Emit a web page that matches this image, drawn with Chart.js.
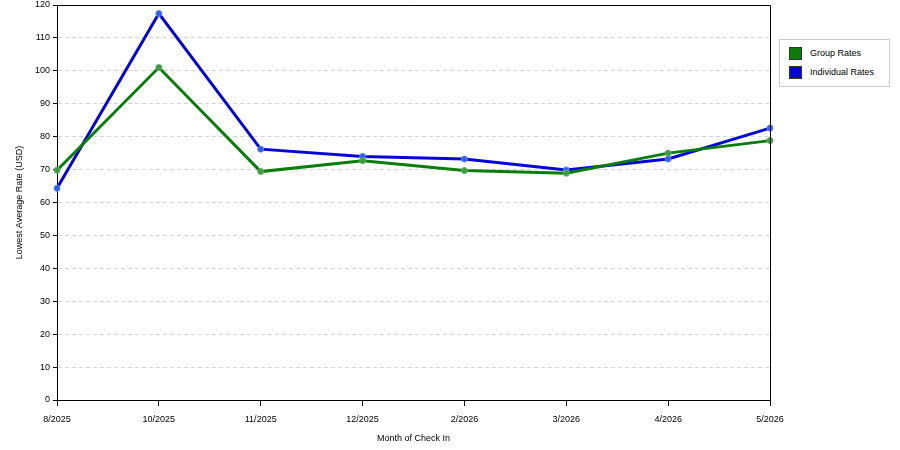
<!DOCTYPE html>
<html>
<head>
<meta charset="utf-8">
<script src="https://cdn.jsdelivr.net/npm/chart.js@4"></script>
<style>
  body { margin: 0; background: #fff; }
  #wrap { position: relative; width: 900px; height: 450px; }
  #legend {
    position: absolute; left: 779px; top: 39px; width: 111px; height: 48px;
    border: 1px solid #ccc; box-sizing: border-box; background: #fff;
    font: 9px "Liberation Sans", Arial, sans-serif; color: #000;
  }
  .item { position: absolute; left: 9px; height: 13px; line-height: 13px; }
  .sw { display: inline-block; width: 13px; height: 13px; vertical-align: top; margin-right: 8px; box-sizing: border-box; border: 1px solid #333; }
</style>
</head>
<body>
<div id="wrap">
  <canvas id="rateChart" width="900" height="450"></canvas>
  <div id="legend"></div>
</div>
<script>
// Data
const months = ['8/2025', '10/2025', '11/2025', '12/2025', '2/2026', '3/2026', '4/2026', '5/2026'];
const groupRates = [69.8, 101, 69.4, 72.7, 69.7, 68.9, 75, 78.8];
const individualRates = [64.3, 117.4, 76.2, 74, 73.2, 69.9, 73.2, 82.6];
const yTicks = [0, 10, 20, 30, 40, 50, 60, 70, 80, 90, 100, 110, 120];

const seriesColors = { group: '#0a7d0a', individual: '#0505d8' };

Chart.defaults.font.family = '"Liberation Sans", Arial, sans-serif';
Chart.defaults.font.size = 9;
Chart.defaults.color = '#000';

// frame around the plot area (top and right edges)
const framePlugin = {
  id: 'frame',
  afterDraw(chart) {
    const a = chart.chartArea, c = chart.ctx;
    c.save();
    c.strokeStyle = '#000';
    c.lineWidth = 1;
    c.beginPath();
    c.moveTo(a.left, a.top + 0.5);
    c.lineTo(a.right + 0.5, a.top + 0.5);
    c.lineTo(a.right + 0.5, a.bottom);
    c.stroke();
    c.restore();
  }
};

const ctx = document.getElementById('rateChart').getContext('2d');
const rateChart = new Chart(ctx, {
  type: 'line',
  data: {
    labels: months,
    datasets: [{
      label: 'Group Rates',
      data: groupRates,
      borderColor: seriesColors.group,
      backgroundColor: seriesColors.group,
      borderWidth: 3,
      pointRadius: 3,
      pointBackgroundColor: '#3f9b3f',
      pointBorderColor: '#5fae5f',
      pointBorderWidth: 1,
      tension: 0
    }, {
      label: 'Individual Rates',
      data: individualRates,
      borderColor: seriesColors.individual,
      backgroundColor: seriesColors.individual,
      borderWidth: 3,
      pointRadius: 3,
      pointBackgroundColor: '#2f5fe6',
      pointBorderColor: '#5a85ee',
      pointBorderWidth: 1,
      tension: 0
    }]
  },
  options: {
    responsive: false,
    animation: false,
    layout: { padding: { top: 5, right: 130, left: 0, bottom: 0 } },
    plugins: {
      legend: { display: false },
      tooltip: { enabled: false }
    },
    scales: {
      y: {
        min: 0,
        max: 120,
        afterFit: (s) => { s.width = 57; s.paddingTop = 0; s.paddingBottom = 0; },
        afterBuildTicks: (s) => { s.ticks = yTicks.map(v => ({ value: v })); },
        border: { color: '#000', width: 1, dash: [4, 3] },
        grid: {
          color: (c) => (c.tick.value === 0 || c.tick.value === 120) ? 'rgba(0,0,0,0)' : '#d4d4d4',
          tickColor: '#000',
          tickLength: 4,
          drawTicks: true
        },
        ticks: { padding: 3, color: '#000' },
        title: {
          display: true,
          text: 'Lowest Average Rate (USD)',
          padding: { top: 14, bottom: 0 },
          font: { size: 9 }
        }
      },
      x: {
        offset: false,
        afterFit: (s) => { s.height = 50; },
        border: { color: '#000', width: 1 },
        grid: { drawOnChartArea: false, tickColor: '#000', tickLength: 6 },
        ticks: { padding: 8, maxRotation: 0, autoSkip: false, color: '#000' },
        title: {
          display: true,
          text: 'Month of Check In',
          padding: { top: 0, bottom: 6 },
          font: { size: 9 }
        }
      }
    }
  },
  plugins: [framePlugin]
});

// HTML legend built from the datasets
const legend = document.getElementById('legend');
rateChart.data.datasets.forEach((ds, i) => {
  const item = document.createElement('div');
  item.className = 'item';
  item.style.top = (7 + i * 19) + 'px';
  item.innerHTML = '<span class="sw" style="background:' + ds.borderColor + '"></span>' + ds.label;
  legend.appendChild(item);
});
</script>
</body>
</html>
